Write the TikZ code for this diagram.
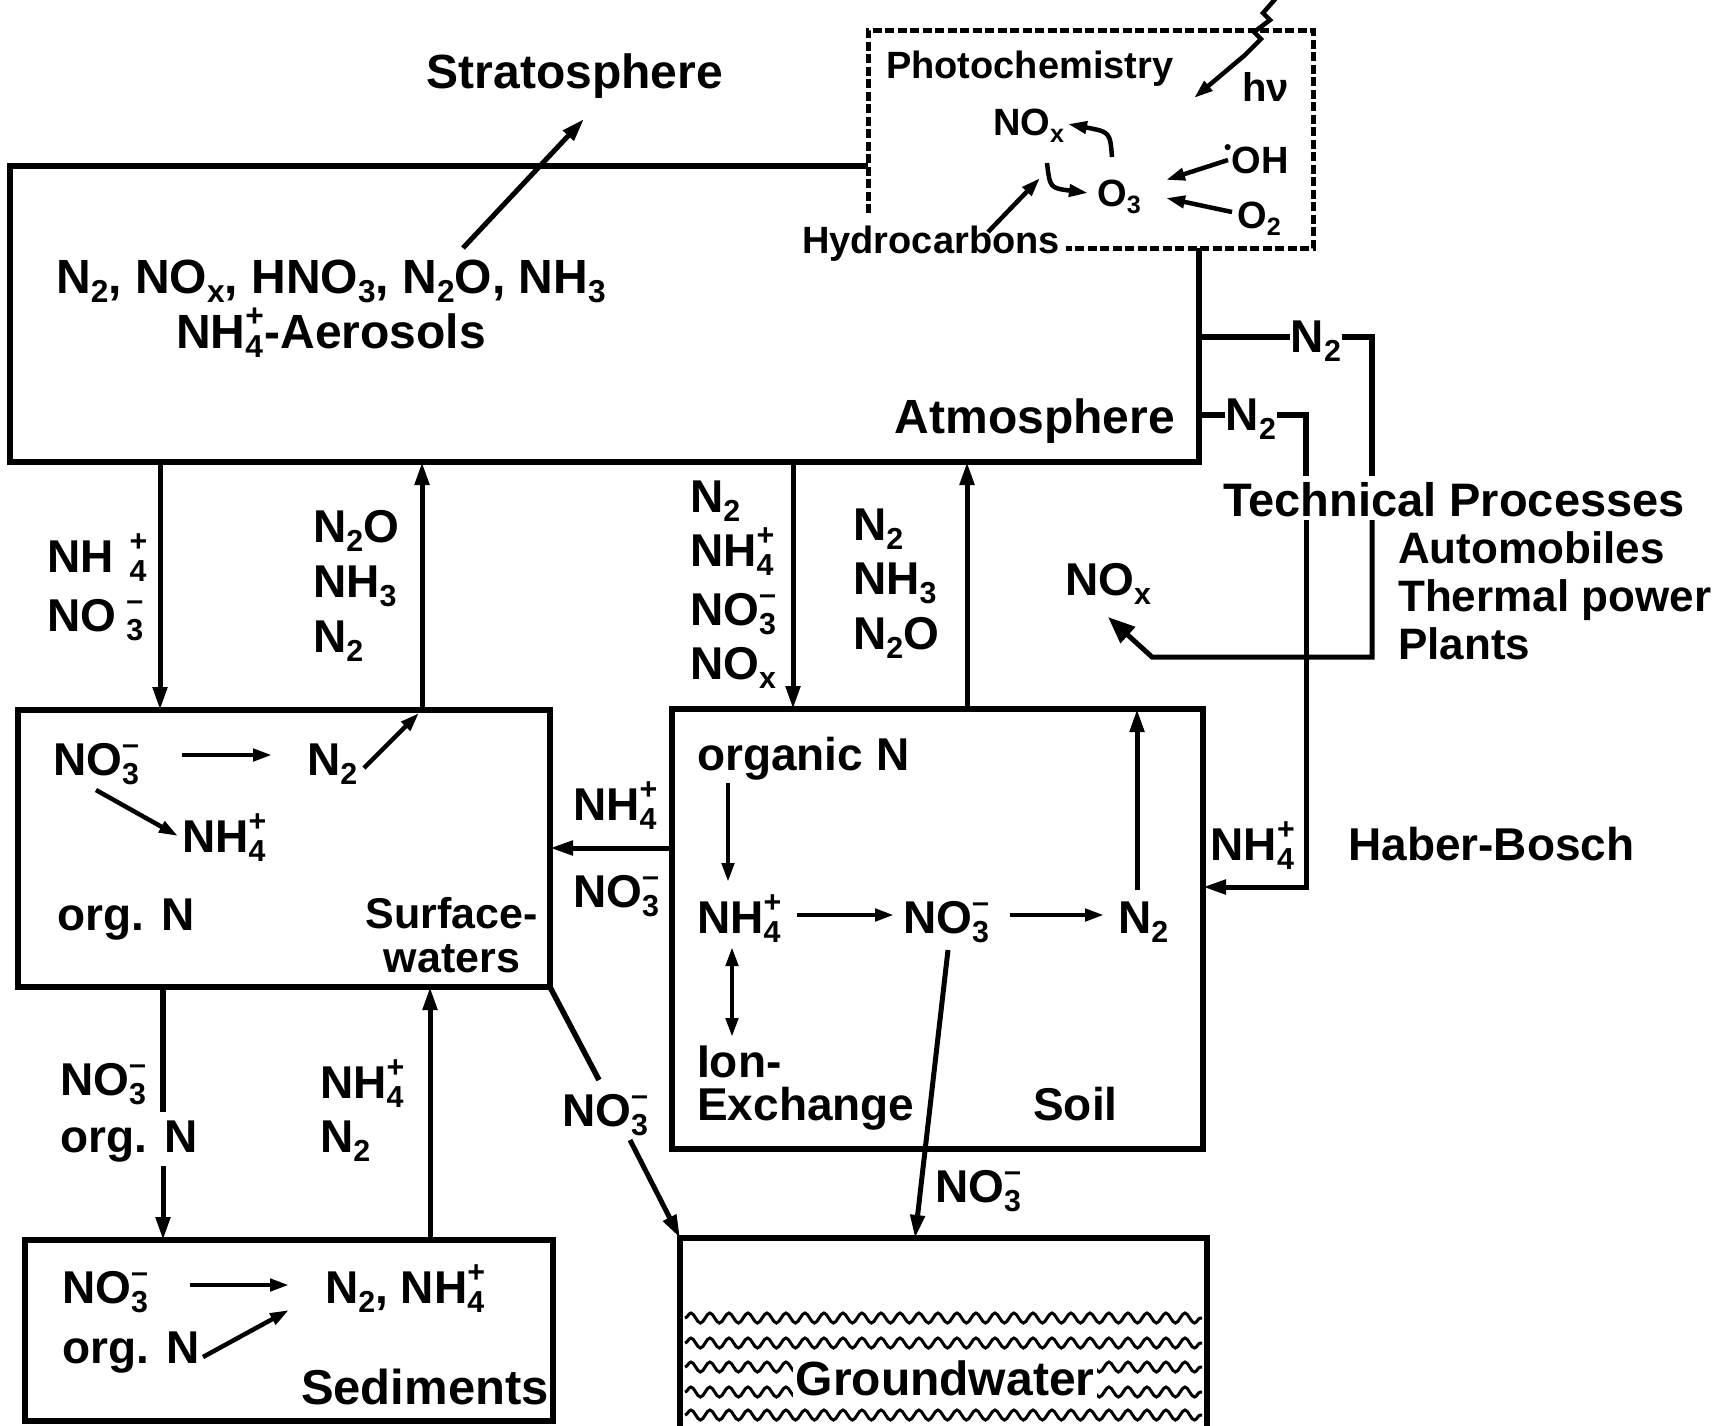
\documentclass[tikz,border=0pt]{standalone}
\usepackage{fontspec}
\setmainfont{Liberation Sans}
\usetikzlibrary{arrows.meta,decorations.pathmorphing}
\newcommand\chsub[1]{\raisebox{-0.2em}{\scalebox{0.66}{#1}}}
\newcommand\chsup[1]{\raisebox{0.44em}{\scalebox{0.66}{#1}}}
\newcommand\chss[2]{\makebox[0.4em][l]{\chsub{#1}}\llap{\makebox[0.4em][l]{\chsup{#2}}}}
\newcommand\fsz[2]{\fontsize{#1}{#2}\selectfont\bfseries\lineskiplimit=-200pt\lineskip=0pt}
\tikzset{
  chem/.style={font=\fsz{46}{54}, inner sep=0pt},
  mid/.style={font=\fsz{44}{48}, inner sep=0pt},
  phfont/.style={font=\fsz{38}{44}, inner sep=0pt},
  ln/.style={line width=5.5pt},
  flow/.style={line width=5pt, -{Triangle[length=23pt,width=14pt]}},
  sflow/.style={line width=4.5pt, -{Triangle[length=19pt,width=12pt]}},
  bigtip/.style={-{Triangle[length=27pt,width=21pt]}},
  dashbox/.style={line width=5pt, dash pattern=on 9pt off 3.5pt},
  wave/.style={line width=3pt, decorate, decoration={snake, amplitude=5pt, segment length=19pt}},
}
\begin{document}
\begin{tikzpicture}[x=1pt,y=-1pt]
\useasboundingbox (0,0) rectangle (1729,1425);
\fill[white] (0,0) rectangle (1729,1425);

% multi-line nodes: anchor=base refers to the baseline of the LAST line

% ---------- Atmosphere ----------
\coordinate (atA) at (868,166);
\coordinate (atB) at (10,166);
\coordinate (atC) at (10,462);
\coordinate (atD) at (1199,462);
\coordinate (atE) at (1199,248);
\draw[ln] (atA) -- (atB) -- (atC) -- (atD) -- (atE);

\node[chem, font=\fsz{48}{54}, anchor=base] (strat) at (575,88) {Stratosphere};
\node[chem, font=\fsz{48}{55}, anchor=base, align=center] (atm) at (331,348)
  {N\chsub2, NO\chsub{x}, HNO\chsub3, N\chsub2O, NH\chsub3\\NH\chss4+-Aerosols};
\node[chem, font=\fsz{48}{54}, anchor=base] (atmo) at (1035,433) {Atmosphere};
\coordinate (stT) at (463,248);
\coordinate (stH) at (584,119);
\draw[flow] (stT) -- (stH);

% ---------- Photochemistry ----------
\coordinate (phA) at (868,213);
\coordinate (phB) at (868,30);
\coordinate (phC) at (1313,30);
\coordinate (phD) at (1313,248);
\coordinate (phE) at (1066,248);
\draw[dashbox] (phA) -- (phB) -- (phC) -- (phD) -- (phE);
\node[phfont, anchor=base west] (photo) at (886,78) {Photochemistry};
\node[phfont, font=\fsz{40}{44}, anchor=base west] (hv) at (1242,101) {hν};
\node[phfont, anchor=base west] (nox) at (993,135) {NO\chsub{x}};
\node[phfont, anchor=base west] (o3) at (1097,206) {O\chsub3};
\node[phfont, anchor=base west] (oh) at (1224,173) {\raisebox{0.5em}{\scalebox{0.55}{•}}OH};
\node[phfont, anchor=base west] (o2) at (1237,228) {O\chsub2};
\node[phfont, anchor=base west] (hydro) at (802,253) {Hydrocarbons};
\coordinate (c1a) at (1112,157);
\coordinate (c1b) at (1068,124);
\draw[sflow] (c1a) .. controls (1110,132) .. (c1b);
\coordinate (c2a) at (1047,163);
\coordinate (c2b) at (1088,193);
\draw[sflow] (c2a) .. controls (1050,188) .. (c2b);
\coordinate (hyA) at (988,232);
\coordinate (hyB) at (1040,178);
\draw[sflow] (hyA) -- (hyB);
\coordinate (ohA) at (1228,160);
\coordinate (ohB) at (1166,180);
\draw[sflow] (ohA) -- (ohB);
\coordinate (o2A) at (1232,212);
\coordinate (o2B) at (1166,198);
\draw[sflow] (o2A) -- (o2B);
\coordinate (lgA) at (1277,-3);
\coordinate (lgB) at (1194,98);
\draw[sflow] (lgA) -- (1263,13) -- (1270,20) -- (1254,32) -- (1261,39) -- (1245,55) -- (lgB);

% ---------- Technical processes ----------
\coordinate (t1a) at (1199,337);
\coordinate (t1b) at (1372,337);
\coordinate (t1c) at (1372,476);
\draw[ln] (t1a) -- (t1b) -- (t1c);
\coordinate (t1d) at (1372,520);
\coordinate (t1e) at (1372,657);
\coordinate (t1f) at (1152,657);
\coordinate (t1g) at (1108,617);
\draw[flow, bigtip] (t1d) -- (t1e) -- (t1f) -- (t1g);
\node[chem, fill=white, inner sep=1pt, anchor=base] (n2a) at (1316,352) {N\chsub2};

\coordinate (t2a) at (1199,415);
\coordinate (t2b) at (1306,415);
\coordinate (t2c) at (1306,476);
\draw[ln] (t2a) -- (t2b) -- (t2c);
\coordinate (t2d) at (1306,520);
\coordinate (t2e) at (1306,887);
\coordinate (t2f) at (1203,887);
\draw[flow] (t2d) -- (t2e) -- (t2f);
\node[chem, fill=white, inner sep=1pt, anchor=base] (n2b) at (1251,430) {N\chsub2};

\node[mid, font=\fsz{47}{48}, anchor=base west] (tech) at (1223,516) {Technical Processes};
\node[mid, anchor=base west, align=left] (auto) at (1398,659) {Automobiles\\Thermal power\\Plants};
\node[chem, anchor=base] (noxt) at (1108,595) {NO\chsub{x}};
\node[chem, anchor=base] (nhhb) at (1253,860) {NH\chss4+};
\node[chem, anchor=base west] (haber) at (1348,860) {Haber-Bosch};

% ---------- Atmosphere <-> Surface waters ----------
\coordinate (f1a) at (160,462);
\coordinate (f1b) at (160,710);
\draw[flow] (f1a) -- (f1b);
\node[chem, font=\fsz{46}{59}, anchor=base west, align=left] (l1) at (47,631)
  {NH\hspace{0.35em}\chss4+\\NO\hspace{0.22em}\chss3{–}};
\coordinate (f2a) at (422,710);
\coordinate (f2b) at (422,462);
\draw[flow] (f2a) -- (f2b);
\node[chem, font=\fsz{46}{55}, anchor=base west, align=left] (l2) at (313,652)
  {N\chsub2O\\NH\chsub3\\N\chsub2};

% ---------- Surface waters ----------
\node[ln, draw, minimum width=532pt, minimum height=277pt, inner sep=0pt] (surf) at (284,848.5) {};
\node[chem, anchor=base west] (sw1) at (53,775) {NO\chss3{–}};
\node[chem, anchor=base west] (sw2) at (307,775) {N\chsub2};
\node[chem, anchor=base west] (sw3) at (182,852) {NH\chss4+};
\node[chem, anchor=base west] (sw4) at (57,930) {org. N};
\node[mid, font=\fsz{43}{44}, anchor=base, align=center] (sw5) at (452,972) {Surface-\\waters};
\coordinate (s1a) at (182,755);
\coordinate (s1b) at (272,755);
\draw[sflow] (s1a) -- (s1b);
\coordinate (s2a) at (364,768);
\coordinate (s2b) at (419,713);
\draw[sflow] (s2a) -- (s2b);
\coordinate (s3a) at (96,790);
\coordinate (s3b) at (178,836);
\draw[sflow] (s3a) -- (s3b);

% ---------- Soil -> Surface waters ----------
\coordinate (sfA) at (672,848);
\coordinate (sfB) at (550,848);
\draw[flow] (sfA) -- (sfB);
\node[chem, anchor=base west] (sf1) at (573,820) {NH\chss4+};
\node[chem, anchor=base west] (sf2) at (573,907) {NO\chss3{–}};

% ---------- Surface waters <-> Sediments ----------
\coordinate (d1a) at (163,987);
\coordinate (d1b) at (163,1112);
\draw[ln] (d1a) -- (d1b);
\coordinate (d1c) at (163,1166);
\coordinate (d1d) at (163,1240);
\draw[flow] (d1c) -- (d1d);
\node[chem, font=\fsz{46}{57}, anchor=base west, align=left] (dl) at (60,1152) {NO\chss3{–}\\org. N};
\coordinate (u1a) at (430,1240);
\coordinate (u1b) at (430,987);
\draw[flow] (u1a) -- (u1b);
\node[chem, anchor=base west, align=left] (ul) at (320,1152) {NH\chss4+\\N\chsub2};

% ---------- Sediments ----------
\node[ln, draw, minimum width=528pt, minimum height=181pt, inner sep=0pt] (sed) at (289,1330.5) {};
\node[chem, font=\fsz{46}{60}, anchor=base west, align=left] (se1) at (62,1363) {NO\chss3{–}\\org. N};
\node[chem, anchor=base west] (se2) at (325,1303) {N\chsub2, NH\chss4+};
\node[chem, font=\fsz{49}{54}, anchor=base east] (se4) at (549,1404) {Sediments};
\coordinate (e1a) at (190,1285);
\coordinate (e1b) at (289,1285);
\draw[sflow] (e1a) -- (e1b);
\coordinate (e2a) at (203,1357);
\coordinate (e2b) at (289,1310);
\draw[sflow] (e2a) -- (e2b);

% ---------- Surface waters -> Groundwater ----------
\coordinate (g1a) at (550,987);
\coordinate (g1b) at (599,1080);
\draw[ln] (g1a) -- (g1b);
\coordinate (g1c) at (630,1140);
\coordinate (g1d) at (680,1238);
\draw[flow] (g1c) -- (g1d);
\node[chem, anchor=base west] (gl1) at (562,1126) {NO\chss3{–}};

% ---------- Atmosphere <-> Soil ----------
\coordinate (a1a) at (793,462);
\coordinate (a1b) at (793,709);
\draw[flow] (a1a) -- (a1b);
\node[chem, font=\fsz{46}{54}, anchor=base west, align=left] (al) at (690,679)
  {N\chsub2\\NH\chss4+\\[5pt]NO\chss3{–}\\NO\chsub{x}};
\coordinate (a2a) at (967,709);
\coordinate (a2b) at (967,462);
\draw[flow] (a2a) -- (a2b);
\node[chem, font=\fsz{46}{54.5}, anchor=base west, align=left] (ar) at (853,649)
  {N\chsub2\\NH\chsub3\\N\chsub2O};

% ---------- Soil ----------
\node[ln, draw, minimum width=531pt, minimum height=440pt, inner sep=0pt] (soil) at (937.5,929) {};
\node[chem, anchor=base west] (so1) at (697,770) {organic N};
\node[chem, anchor=base west] (so2) at (697,933) {NH\chss4+};
\node[chem, anchor=base west] (so3) at (903,933) {NO\chss3{–}};
\node[chem, anchor=base west] (so4) at (1118,933) {N\chsub2};
\node[chem, font=\fsz{46}{43}, anchor=base west, align=left] (so5) at (697,1120) {Ion-\\Exchange};
\node[chem, anchor=base west] (so7) at (1033,1120) {Soil};
\coordinate (k1a) at (728,783);
\coordinate (k1b) at (728,882);
\draw[sflow] (k1a) -- (k1b);
\coordinate (k2a) at (797,915);
\coordinate (k2b) at (894,915);
\draw[sflow] (k2a) -- (k2b);
\coordinate (k3a) at (1010,915);
\coordinate (k3b) at (1104,915);
\draw[sflow] (k3a) -- (k3b);
\coordinate (k4a) at (1137,890);
\coordinate (k4b) at (1137,709);
\draw[flow] (k4a) -- (k4b);
\coordinate (k5a) at (732,947);
\coordinate (k5b) at (732,1037);
\draw[line width=4.5pt, {Triangle[length=19pt,width=12pt]}-{Triangle[length=19pt,width=12pt]}] (k5a) -- (k5b);
\coordinate (k6a) at (948,950);
\coordinate (k6b) at (915,1238);
\draw[flow] (k6a) -- (k6b);
\node[chem, anchor=base west] (gl2) at (935,1202) {NO\chss3{–}};

% ---------- Groundwater ----------
\node[ln, draw, minimum width=527pt, minimum height=207pt, inner sep=0pt] (gw) at (943.5,1341.5) {};
\foreach \yy in {1318,1343,1367,1392,1415}{
  \draw[wave] (685,\yy) -- (1202,\yy);
}
\node[chem, font=\fsz{48}{54}, fill=white, inner sep=3pt] (gwt) at (945,1378) {Groundwater};
\end{tikzpicture}
\end{document}
